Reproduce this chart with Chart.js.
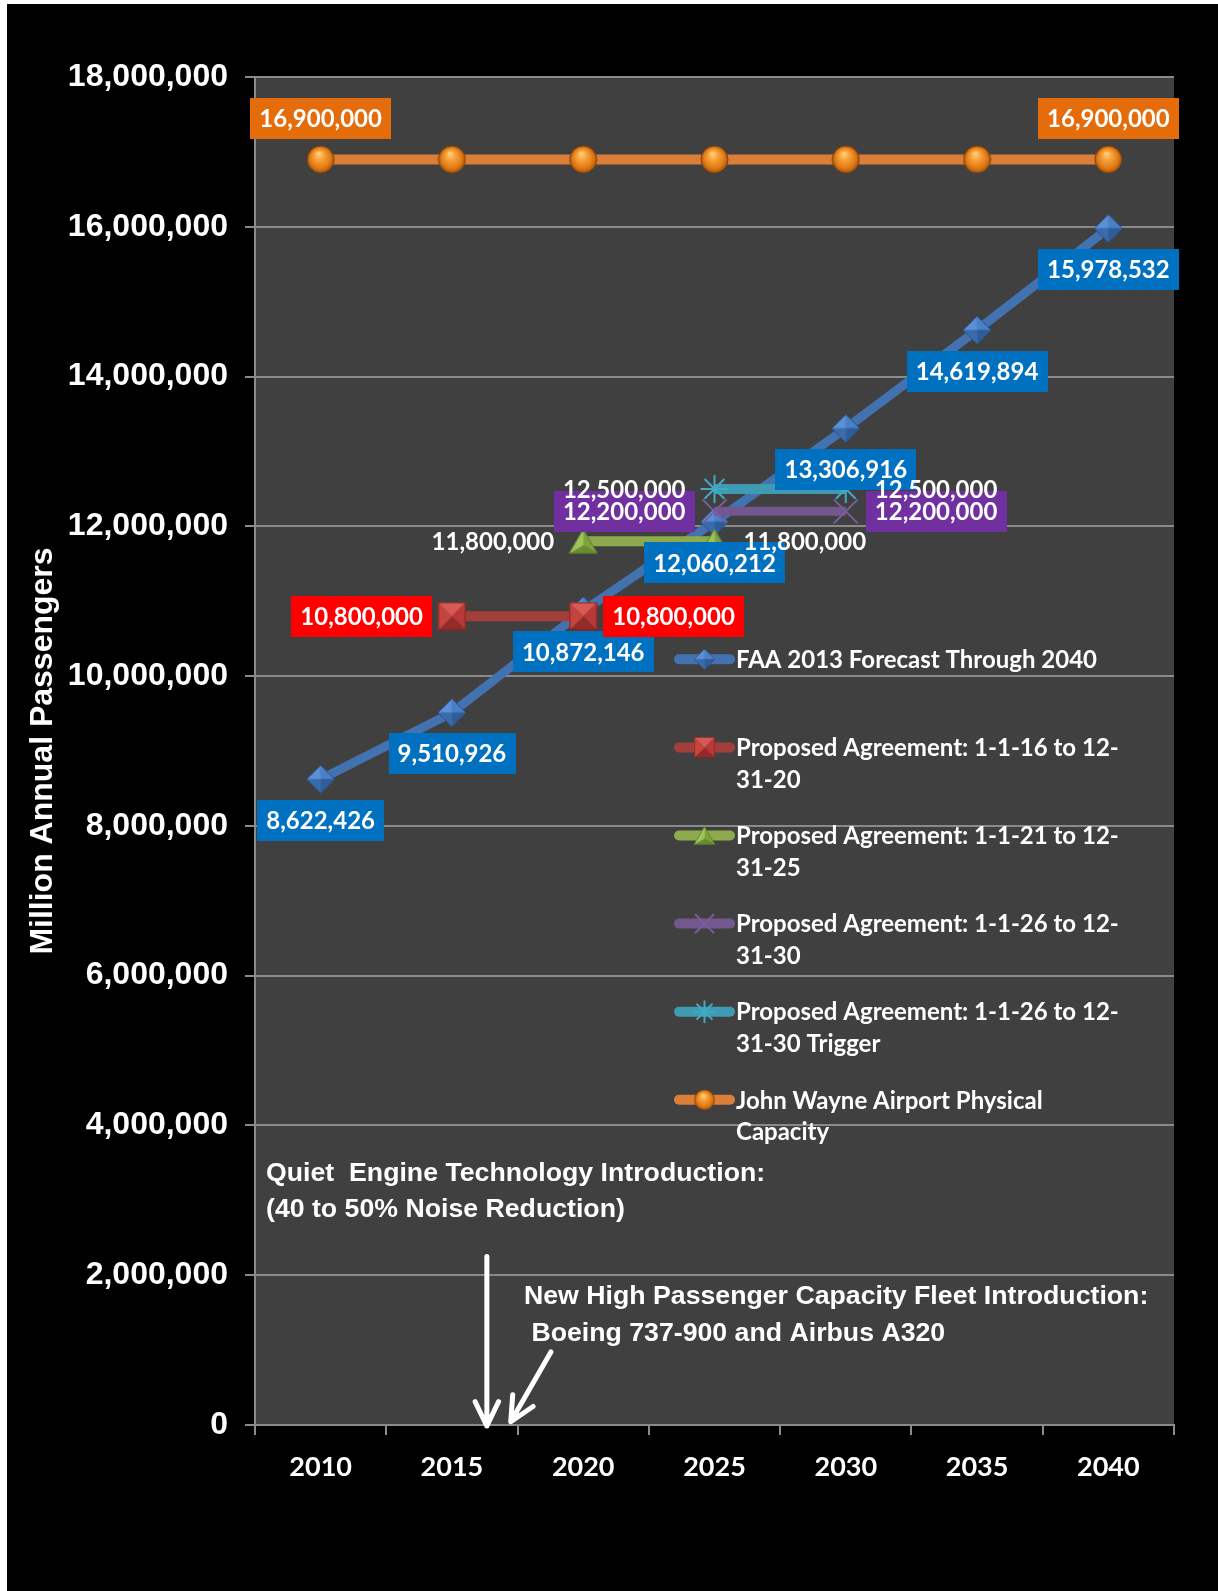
<!DOCTYPE html>
<html>
<head>
<meta charset="utf-8">
<script src="https://cdn.jsdelivr.net/npm/chart.js@4.4.1/dist/chart.umd.min.js"></script>
<style>
  html, body { margin: 0; padding: 0; background: #fff; }
  #frame { position: absolute; left: 7px; top: 4px; width: 1211px; height: 1587px; background: #000; }
  canvas { display: block; }
</style>
</head>
<body>
<div id="frame"><canvas id="chart" width="1211" height="1587"></canvas></div>
<script>
// ---- data ----
const years = ['2010', '2015', '2020', '2025', '2030', '2035', '2040'];
const faaForecast = [8622426, 9510926, 10872146, 12060212, 13306916, 14619894, 15978532];
const agreement16to20 = [null, 10800000, 10800000, null, null, null, null];
const agreement21to25 = [null, null, 11800000, 11800000, null, null, null];
const agreement26to30 = [null, null, null, 12200000, 12200000, null, null];
const agreement26to30Trigger = [null, null, null, 12500000, 12500000, null, null];
const physicalCapacity = [16900000, 16900000, 16900000, 16900000, 16900000, 16900000, 16900000];
const yTickValues = [0, 2000000, 4000000, 6000000, 8000000, 10000000, 12000000, 14000000, 16000000, 18000000];

const nameFAA = ['FAA 2013 Forecast Through 2040'];
const name16 = ['Proposed Agreement: 1-1-16 to 12-', '31-20'];
const name21 = ['Proposed Agreement: 1-1-21 to 12-', '31-25'];
const name26 = ['Proposed Agreement: 1-1-26 to 12-', '31-30'];
const name26T = ['Proposed Agreement: 1-1-26 to 12-', '31-30 Trigger'];
const nameCap = ['John Wayne Airport Physical', 'Capacity'];

const quietNote = ['Quiet  Engine Technology Introduction:', '(40 to 50% Noise Reduction)'];
const fleetNote = ['New High Passenger Capacity Fleet Introduction:', ' Boeing 737-900 and Airbus A320'];

// ---- shaded marker images ----
function makeCanvas(w, h) { const c = document.createElement('canvas'); c.width = w; c.height = h; return c; }

function facetMarker(w, h, verts, facetColors, edge) {
  const c = makeCanvas(w + 2, h + 2), g = c.getContext('2d');
  g.translate(1, 1);
  let cx = 0, cy = 0;
  verts.forEach(v => { cx += v[0]; cy += v[1]; });
  cx /= verts.length; cy /= verts.length;
  verts.forEach((v, i) => {
    const n = verts[(i + 1) % verts.length];
    g.beginPath(); g.moveTo(cx, cy); g.lineTo(v[0], v[1]); g.lineTo(n[0], n[1]); g.closePath();
    g.fillStyle = facetColors[i]; g.fill();
    g.strokeStyle = facetColors[i]; g.lineWidth = 0.6; g.stroke();
  });
  g.beginPath(); verts.forEach((v, i) => i ? g.lineTo(v[0], v[1]) : g.moveTo(v[0], v[1])); g.closePath();
  g.strokeStyle = edge; g.lineWidth = 1; g.stroke();
  return c;
}

function sphereMarker(d) {
  const c = makeCanvas(d + 2, d + 2), g = c.getContext('2d');
  const r = d / 2, cx = c.width / 2, cy = c.height / 2;
  const grad = g.createRadialGradient(cx - r * 0.15, cy - r * 0.45, r * 0.05, cx, cy, r);
  grad.addColorStop(0, '#ffd07a');
  grad.addColorStop(0.35, '#f7a03a');
  grad.addColorStop(0.75, '#e27b14');
  grad.addColorStop(1, '#a9560c');
  g.beginPath(); g.arc(cx, cy, r, 0, Math.PI * 2);
  g.fillStyle = grad; g.fill();
  g.strokeStyle = 'rgba(120,62,14,0.9)'; g.lineWidth = 1; g.stroke();
  return c;
}

const diamondImg = facetMarker(28, 28, [[0, 14], [14, 0], [28, 14], [14, 28]],
  ['#5b90d6', '#4a80c8', '#2f5d99', '#3a6bad'], '#2b5288');
const squareImg = facetMarker(27, 27, [[0, 0], [27, 0], [27, 27], [0, 27]],
  ['#d85a54', '#b8393a', '#942b29', '#c4443f'], '#7e2321');
const triangleImg = facetMarker(28, 24, [[14, 0], [28, 24], [0, 24]],
  ['#7fa23d', '#6a8c30', '#a0c45a'], '#5d7d2a');
const sphereImg = sphereMarker(27);

// ---- chart ----
const fmt = v => v.toLocaleString('en-US');
const labelFont = 'bold 24px Lato';

const valueLabels = {
  id: 'valueLabels',
  afterDatasetsDraw(chart) {
    const ctx = chart.ctx;
    ctx.save();
    ctx.font = labelFont;
    ctx.textBaseline = 'middle';
    ctx.textAlign = 'center';
    chart.data.datasets.forEach((ds, di) => {
      const meta = chart.getDatasetMeta(di);
      (ds.valueLabels || []).forEach(([idx, pos]) => {
        const pt = meta.data[idx];
        const text = fmt(ds.data[idx]);
        const w = ctx.measureText(text).width + 18, h = 41;
        let cx = pt.x, cy = pt.y;
        if (pos === 'below') cy = pt.y + 41;
        else if (pos === 'above') cy = pt.y - 41;
        else if (pos === 'left') cx = pt.x - 20 - w / 2;
        else cx = pt.x + 20 + w / 2;
        if (ds.labelFill) {
          ctx.fillStyle = ds.labelFill;
          ctx.fillRect(Math.round(cx - w / 2), Math.round(cy - h / 2), Math.round(w), h);
        }
        ctx.fillStyle = '#ffffff';
        ctx.fillText(text, cx, cy + 1);
      });
    });
    ctx.restore();
  }
};

function strokeMarker(ctx, style, x, y, r, color, lw) {
  ctx.save();
  ctx.strokeStyle = color; ctx.lineWidth = lw;
  ctx.beginPath();
  const d = r * Math.SQRT1_2;
  ctx.moveTo(x - d, y - d); ctx.lineTo(x + d, y + d);
  ctx.moveTo(x - d, y + d); ctx.lineTo(x + d, y - d);
  if (style === 'star') { ctx.moveTo(x, y - r); ctx.lineTo(x, y + r); ctx.moveTo(x - r, y); ctx.lineTo(x + r, y); }
  ctx.stroke();
  ctx.restore();
}

const insideLegend = {
  id: 'insideLegend',
  afterDatasetsDraw(chart) {
    const ctx = chart.ctx, area = chart.chartArea;
    const x0 = area.left + 419, x1 = area.left + 480, tx = area.left + 481;
    ctx.save();
    ctx.font = labelFont;
    ctx.textBaseline = 'middle';
    ctx.textAlign = 'left';
    chart.data.datasets.forEach((ds, i) => {
      const y = area.top + 582.3 + i * 88.1;
      ctx.strokeStyle = ds.borderColor; ctx.lineWidth = 10; ctx.lineCap = 'round';
      ctx.beginPath(); ctx.moveTo(x0 + 5, y); ctx.lineTo(x1 - 5, y); ctx.stroke();
      const mx = (x0 + x1) / 2;
      if (typeof ds.pointStyle === 'string') {
        strokeMarker(ctx, ds.pointStyle, mx, y, ds.pointRadius * 0.75, ds.pointBorderColor, 2);
      } else {
        const img = ds.pointStyle, s = 0.74;
        ctx.drawImage(img, mx - img.width * s / 2, y - img.height * s / 2, img.width * s, img.height * s);
      }
      ctx.fillStyle = '#ffffff';
      ds.legendLines.forEach((line, k) => ctx.fillText(line, tx, y + 1 + k * 31.6));
    });
    ctx.restore();
  }
};

function arrow(ctx, x1, y1, x2, y2) {
  const ang = Math.atan2(y2 - y1, x2 - x1), len = 27, spread = 0.45;
  ctx.beginPath();
  ctx.moveTo(x1, y1); ctx.lineTo(x2, y2);
  ctx.moveTo(x2 - len * Math.cos(ang - spread), y2 - len * Math.sin(ang - spread));
  ctx.lineTo(x2, y2);
  ctx.lineTo(x2 - len * Math.cos(ang + spread), y2 - len * Math.sin(ang + spread));
  ctx.stroke();
}

const notes = {
  id: 'notes',
  afterDraw(chart) {
    const ctx = chart.ctx, area = chart.chartArea;
    const xs = chart.scales.x, ys = chart.scales.y;
    const xAt = yr => xs.getPixelForValue((yr - 2010) / 5);
    ctx.save();
    ctx.fillStyle = '#ffffff';
    ctx.font = 'bold 26.7px "Liberation Sans", Arial, sans-serif';
    ctx.textBaseline = 'middle';
    ctx.textAlign = 'left';
    quietNote.forEach((t, k) => ctx.fillText(t, area.left + 11, ys.getPixelForValue(3360000) + k * 36));
    fleetNote.forEach((t, k) => ctx.fillText(t, area.left + 269, ys.getPixelForValue(1714000) + k * 36.6));
    ctx.strokeStyle = '#ffffff';
    ctx.lineWidth = 5;
    ctx.lineCap = 'round';
    ctx.lineJoin = 'round';
    arrow(ctx, xAt(2016.33), ys.getPixelForValue(2250000), xAt(2016.33), ys.getPixelForValue(0) + 1);
    arrow(ctx, xAt(2018.77), ys.getPixelForValue(976000), xAt(2017.24), ys.getPixelForValue(44000));
    ctx.restore();
  }
};

const plotBackground = {
  id: 'plotBackground',
  beforeDraw(chart) {
    const { ctx, chartArea: a } = chart;
    ctx.save();
    ctx.fillStyle = '#000000';
    ctx.fillRect(0, 0, chart.width, chart.height);
    ctx.fillStyle = '#404040';
    ctx.fillRect(a.left, a.top, a.right - a.left, a.bottom - a.top);
    ctx.restore();
  }
};

const gridGray = '#8a8a8a';
const axisFont = '"Liberation Sans", Arial, sans-serif';

new Chart(document.getElementById('chart'), {
  type: 'line',
  data: {
    labels: years,
    datasets: [
      {
        label: nameFAA.join(''), legendLines: nameFAA, data: faaForecast, order: 6,
        borderColor: '#4272b0', borderWidth: 9,
        pointStyle: diamondImg, pointRadius: 13,
        labelFill: '#0070c0',
        valueLabels: [[0, 'below'], [1, 'below'], [2, 'below'], [3, 'below'], [4, 'below'], [5, 'below'], [6, 'below']]
      },
      {
        label: name16.join(''), legendLines: name16, data: agreement16to20, order: 5,
        borderColor: '#a33f3b', borderWidth: 10,
        pointStyle: squareImg, pointRadius: 13,
        labelFill: '#ff0000',
        valueLabels: [[1, 'left'], [2, 'right']]
      },
      {
        label: name21.join(''), legendLines: name21, data: agreement21to25, order: 4,
        borderColor: '#8dab4c', borderWidth: 10,
        pointStyle: triangleImg, pointRadius: 13,
        valueLabels: [[2, 'left'], [3, 'right']]
      },
      {
        label: name26.join(''), legendLines: name26, data: agreement26to30, order: 3,
        borderColor: '#72588f', borderWidth: 9,
        pointStyle: 'crossRot', pointRadius: 17, pointBorderWidth: 2, pointBorderColor: '#7a5d9f',
        labelFill: '#7030a0',
        valueLabels: [[3, 'left'], [4, 'right']]
      },
      {
        label: name26T.join(''), legendLines: name26T, data: agreement26to30Trigger, order: 2,
        borderColor: '#3e9bb3', borderWidth: 10,
        pointStyle: 'star', pointRadius: 14, pointBorderWidth: 2, pointBorderColor: '#42a9c4',
        valueLabels: [[3, 'left'], [4, 'right']]
      },
      {
        label: nameCap.join(''), legendLines: nameCap, data: physicalCapacity, order: 1,
        borderColor: '#db7e38', borderWidth: 10,
        pointStyle: sphereImg, pointRadius: 13,
        labelFill: '#e46c0a',
        valueLabels: [[0, 'above'], [6, 'above']]
      }
    ]
  },
  options: {
    responsive: false,
    animation: false,
    devicePixelRatio: 1,
    layout: { padding: { top: 73, right: 44, left: 0, bottom: 0 } },
    elements: { line: { tension: 0, borderCapStyle: 'butt' }, point: { hoverRadius: 13 } },
    plugins: { legend: { display: false }, tooltip: { enabled: false } },
    events: [],
    scales: {
      x: {
        type: 'category',
        offset: true,
        afterFit(scale) { scale.height = 166; },
        grid: { offset: true, drawOnChartArea: false, drawTicks: true, tickLength: 10, color: gridGray, lineWidth: 2 },
        border: { display: true, color: gridGray, width: 2 },
        ticks: { color: '#ffffff', font: { family: 'Lato', weight: 'bold', size: 27 }, padding: 16, maxRotation: 0 }
      },
      y: {
        min: 0,
        max: 18000000,
        afterFit(scale) { scale.width = 248; },
        afterBuildTicks(scale) { scale.ticks = yTickValues.map(v => ({ value: v })); },
        grid: { color: gridGray, lineWidth: 2, drawTicks: true, tickLength: 10 },
        border: { display: true, color: gridGray, width: 2 },
        ticks: {
          color: '#ffffff',
          font: { family: axisFont, weight: 'bold', size: 32 },
          padding: 17,
          callback: v => fmt(v)
        },
        title: {
          display: true,
          text: 'Million Annual Passengers',
          color: '#ffffff',
          font: { family: axisFont, weight: 'bold', size: 32 },
          padding: { top: 17, bottom: 0 }
        }
      }
    }
  },
  plugins: [plotBackground, valueLabels, insideLegend, notes]
});
</script>
</body>
</html>
